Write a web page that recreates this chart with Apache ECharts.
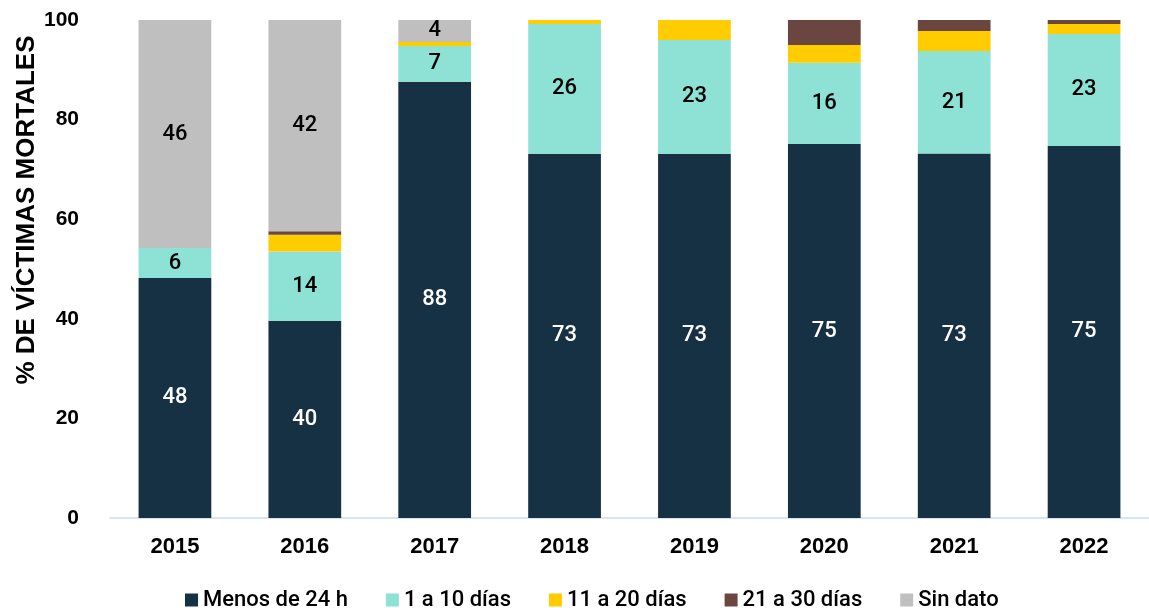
<!DOCTYPE html>
<html><head><meta charset="utf-8">
<script src="https://cdn.jsdelivr.net/npm/echarts@6/dist/echarts.min.js"></script>
<style>html,body{margin:0;padding:0;background:#fff}#c{width:1149px;height:608px}</style>
</head><body><div id="c"></div>
<script>
const categories = ['2015','2016','2017','2018','2019','2020','2021','2022'];
const menos24h   = [48.2, 39.6, 87.6, 73.1, 73.1, 75.1, 73.2, 74.7];
const de1a10     = [6.0, 13.9, 7.2, 26.1, 22.9, 16.3, 20.6, 22.5];
const de11a20    = [0, 3.4, 0.8, 0.8, 4.0, 3.6, 4.0, 2.0];
const de21a30    = [0, 0.7, 0, 0, 0, 5.0, 2.2, 0.8];
const sinDato    = [45.8, 42.4, 4.4, 0, 0, 0, 0, 0];
const yTicks     = [0, 20, 40, 60, 80, 100];

const FONT = 'Liberation Sans';
const LFONT = 'Roboto';
const fmt = p => (p.value > 0 ? String(Math.round(p.value)) : '');
function mk(name, data, color, showLabel, labelColor) {
  return {
    name, type: 'bar', stack: 't', data, barWidth: '56%',
    itemStyle: { color },
    label: { show: showLabel, position: 'inside', formatter: fmt, color: labelColor,
      fontFamily: LFONT, fontSize: 22, fontWeight: 500 },
    emphasis: { disabled: true }
  };
}
const chart = echarts.init(document.getElementById('c'));
chart.setOption({
  animation: false,
  textStyle: { fontFamily: FONT },
  grid: { left: 110, top: 20, width: 1051, height: 498, containLabel: false },
  legend: {
    top: 584, left: 180, itemWidth: 13, itemHeight: 13, itemGap: 38, icon: 'rect',
    textStyle: { fontFamily: LFONT, fontSize: 22, fontWeight: 500, color: '#000' },
    data: ['Menos de 24 h', '1 a 10 días', '11 a 20 días', '21 a 30 días', 'Sin dato']
  },
  xAxis: {
    type: 'category', data: categories,
    axisLine: { lineStyle: { color: '#C9DDEB', width: 1.5 } },
    axisTick: { show: false },
    axisLabel: { fontFamily: FONT, fontSize: 22, fontWeight: 'bold', color: '#000', margin: 18 }
  },
  yAxis: {
    type: 'value', min: 0, max: 100, interval: 20,
    axisLine: { show: false }, axisTick: { show: false }, splitLine: { show: false },
    axisLabel: { fontFamily: FONT, fontSize: 21, fontWeight: 'bold', color: '#000', margin: 31,
      formatter: v => (yTicks.includes(v) ? String(v) : '') }
  },
  graphic: [{
    type: 'text', x: 27, y: 210, rotation: Math.PI / 2,
    style: { text: '% DE VÍCTIMAS MORTALES', font: 'bold 26px "Liberation Sans"', fill: '#000',
      textAlign: 'center', textVerticalAlign: 'middle' }
  }],
  series: [
    mk('Menos de 24 h', menos24h, '#173144', true, '#fff'),
    mk('1 a 10 días', de1a10, '#8DE2D5', true, '#000'),
    mk('11 a 20 días', de11a20, '#FFCC00', false, '#000'),
    mk('21 a 30 días', de21a30, '#6B4640', false, '#fff'),
    mk('Sin dato', sinDato, '#BFBFBF', true, '#000')
  ]
});
</script></body></html>
